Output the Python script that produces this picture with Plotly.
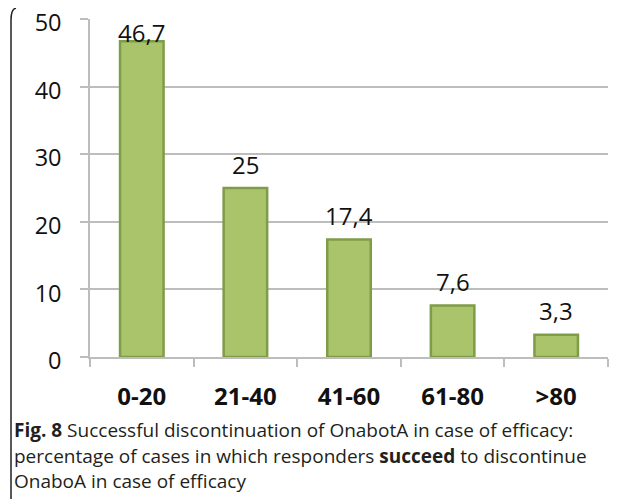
import plotly.graph_objects as go

categories = ["0-20", "21-40", "41-60", "61-80", ">80"]
values = [46.7, 25, 17.4, 7.6, 3.3]
value_labels = ["46,7", "25", "17,4", "7,6", "3,3"]
y_ticks = [0, 10, 20, 30, 40, 50]

caption_lines = [
    "<b>Fig. 8</b> Successful discontinuation of OnabotA in case of efficacy:",
    "percentage of cases in which responders <b>succeed</b> to discontinue",
    "OnaboA in case of efficacy",
]

# page has an 8px body margin; figure coordinates = page - 8
OFF = 8
W, H = 621 - OFF, 499 - OFF
ML, MR, MT, MB = 90 - OFF, 13, 19 - OFF, 142
PW = W - ML - MR
PH = H - MT - MB


def px_x(px):
    return (px - OFF - ML) / PW


def px_y(py):
    return (H - MB - (py - OFF)) / PH


fig = go.Figure()
fig.add_trace(go.Bar(
    x=categories, y=values, width=0.42,
    marker=dict(color="#A9C46B", line=dict(color="#7F9C49", width=2.5)),
    hoverinfo="skip",
))

# data labels
label_shift = [9, 24, 24, 24, 24]
for c, v, t, s in zip(categories, values, value_labels, label_shift):
    fig.add_annotation(x=c, y=v, text=t, showarrow=False, yanchor="middle",
                       yshift=s, font=dict(family="Open Sans", size=24, color="#111111"))

# caption
cap_y = [430, 455.5, 481]
for line, cy in zip(caption_lines, cap_y):
    fig.add_annotation(xref="paper", yref="paper", x=px_x(12), y=px_y(cy),
                       xanchor="left", yanchor="middle", text=line, showarrow=False,
                       font=dict(family="Open Sans", size=19, color="#231F20"))

# left frame line with rounded top corner
x0 = px_x(11)
fig.add_shape(type="path", xref="paper", yref="paper",
              path=f"M {px_x(16)} {px_y(8)} Q {x0} {px_y(9)} {x0} {px_y(20)} L {x0} {px_y(500)}",
              line=dict(color="#222222", width=1.5))

fig.update_layout(
    width=W, height=H,
    margin=dict(l=ML, r=MR, t=MT, b=MB, autoexpand=False),
    paper_bgcolor="white", plot_bgcolor="white",
    showlegend=False,
    font=dict(family="Open Sans", color="#111111"),
)
fig.update_xaxes(
    type="category", showline=True, linecolor="#BDBDBD", linewidth=1.5,
    ticks="outside", tickson="boundaries", ticklen=8, tickcolor="#BDBDBD", tickwidth=1.5,
    tickfont=dict(family="Open Sans", size=24, color="#111111", weight="bold"),
    ticklabelstandoff=17, automargin=False, ticklabeloverflow="allow",
    showgrid=False, zeroline=False, range=[-0.5, 4.5],
)
fig.update_yaxes(
    range=[0, 50], tickvals=y_ticks, showline=True, linecolor="#BDBDBD", linewidth=1.5,
    ticks="outside", ticklen=8, tickcolor="#BDBDBD", tickwidth=1.5,
    showgrid=True, gridcolor="#BDBDBD", gridwidth=1.5, zeroline=False,
    tickfont=dict(family="Open Sans", size=23.5, color="#111111"),
    ticklabelstandoff=14, ticklabelshift=4, automargin=False, ticklabeloverflow="allow",
)

fig.write_html("out.html")
